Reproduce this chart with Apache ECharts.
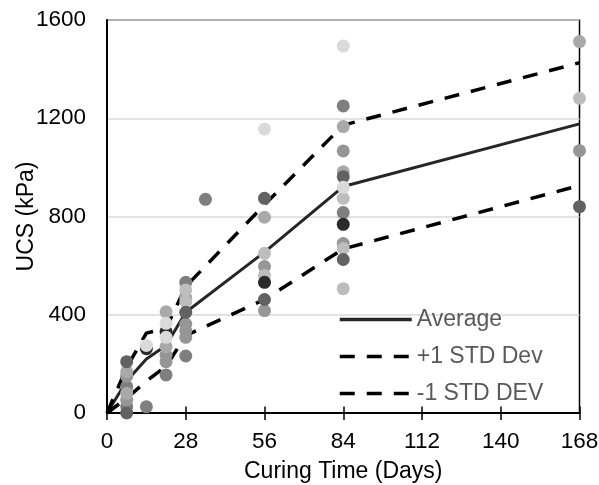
<!DOCTYPE html>
<html>
<head>
<meta charset="utf-8">
<script src="https://cdn.jsdelivr.net/npm/echarts@6/dist/echarts.min.js"></script>
<style>
html,body{margin:0;padding:0;background:#fff;}
#chart{width:599px;height:485px;}
</style>
</head>
<body>
<div id="chart"></div>
<script>
// ---- data ----
const xTicks = [0, 28, 56, 84, 112, 140, 168];
const yTicks = [0, 400, 800, 1200, 1600];
const lineDays = [0, 7, 14, 21, 28, 56, 84, 168];
const average = [0, 130, 220, 275, 410, 655, 922, 1177];
const plusStd = [0, 185, 325, 345, 515, 848, 1172, 1426];
const minusStd = [0, 60, 130, 190, 315, 462, 668, 926];

const samplesGray1 = [[7,107],[7,26],[14,25],[21,155],[28,532],[28,232],[35,870],[84,1250],[84,816]];
const samplesGray2 = [[7,150],[7,53],[21,236],[21,209],[28,362],[28,335],[28,308],[56,596],[56,417],[84,1067],[84,690],[168,1068]];
const samplesGray3 = [[7,168],[7,80],[21,412],[21,270],[28,470],[56,797],[84,1166],[84,982],[168,1512]];
const samplesGray4 = [[28,501],[28,453],[56,650],[56,560],[84,874],[84,670],[84,506],[168,1281]];
const samplesDark2 = [[7,209],[7,0],[28,410],[56,874],[56,462],[84,962],[84,625],[168,840]];
const samplesDark1 = [[14,262],[21,331],[56,532],[84,768]];
const samplesLight = [[14,275],[21,365],[21,308],[56,1156],[84,1494],[84,919]];

const lineNames = ['Average', '+1 STD Dev', '-1 STD DEV'];

// ---- styles ----
const FONT = "'Liberation Sans', Arial, sans-serif";
const scatterGroups = [
  {data: samplesGray1, color: '#7f7f7f'},
  {data: samplesGray2, color: '#969696'},
  {data: samplesGray3, color: '#a9a9a9'},
  {data: samplesGray4, color: '#bdbdbd'},
  {data: samplesDark2, color: '#626262'},
  {data: samplesDark1, color: '#2a2a2a'},
  {data: samplesLight, color: '#dadada'}
];

function pairs(xs, ys){ return xs.map((x,i)=>[x, ys[i]]); }

const chart = echarts.init(document.getElementById('chart'), null, {renderer:'canvas'});

const series = [
  {name: lineNames[0], type:'line', symbol:'none', data: pairs(lineDays, average),
   lineStyle:{color:'#262626', width:3, type:'solid'}, itemStyle:{color:'#262626'}, z:2},
  {name: lineNames[1], type:'line', symbol:'none', data: pairs(lineDays, plusStd),
   lineStyle:{color:'#000', width:3.5, type:[15,12]}, itemStyle:{color:'#000'}, z:2},
  {name: lineNames[2], type:'line', symbol:'none', data: pairs(lineDays, minusStd),
   lineStyle:{color:'#000', width:3.5, type:[15,12]}, itemStyle:{color:'#000'}, z:2}
];
scatterGroups.forEach((g, i) => {
  series.push({name:'s'+i, type:'scatter', data:g.data, symbol:'circle', symbolSize:13,
    itemStyle:{color:g.color, opacity:1}, z:3, silent:true});
});

const option = {
  backgroundColor:'#fff',
  animation:false,
  textStyle:{fontFamily:FONT},
  grid:{left:107, right:19.5, top:20, bottom:72, show:true, borderColor:'#000', borderWidth:1.5,
        containLabel:false, outerBoundsMode:'none'},
  legend:{
    data: lineNames, orient:'vertical', left:338, top:308, itemWidth:72, itemHeight:14, itemGap:14,
    padding:0, selectedMode:false,
    itemStyle:{opacity:0},
    lineStyle:{width:3.5},
    textStyle:{fontSize:23, color:'#595959', fontFamily:FONT}
  },
  xAxis:[{
    type:'value', min:xTicks[0], max:xTicks[xTicks.length-1], interval:28,
    name:'Curing Time (Days)', nameLocation:'middle', nameGap:47, nameMoveOverlap:false,
    nameTextStyle:{fontSize:23, color:'#000', fontFamily:FONT},
    axisLine:{show:true, lineStyle:{color:'#000', width:2}},
    axisTick:{show:true, length:7, lineStyle:{color:'#000', width:1.5}},
    axisLabel:{fontSize:22.5, color:'#000', margin:17, fontFamily:FONT, formatter: v => String(v)},
    splitLine:{show:false}
  },{
    type:'value', min:xTicks[0], max:xTicks[xTicks.length-1], interval:28, position:'bottom',
    axisLine:{show:false},
    axisTick:{show:true, inside:true, length:6.5, lineStyle:{color:'#000', width:1.5}},
    axisLabel:{show:false}, splitLine:{show:false}
  }],
  yAxis:{
    type:'value', min:yTicks[0], max:yTicks[yTicks.length-1], interval:400,
    name:'UCS (kPa)', nameLocation:'middle', nameGap:69, nameMoveOverlap:false,
    nameTextStyle:{fontSize:23, color:'#000', fontFamily:FONT},
    axisLine:{show:true, lineStyle:{color:'#000', width:2}},
    axisTick:{show:false},
    axisLabel:{fontSize:22.5, color:'#000', margin:21, fontFamily:FONT, formatter: v => String(v)},
    splitLine:{show:true, lineStyle:{color:'#d9d9d9', width:1.5}}
  },
  series: series
};
chart.setOption(option);
</script>
</body>
</html>
